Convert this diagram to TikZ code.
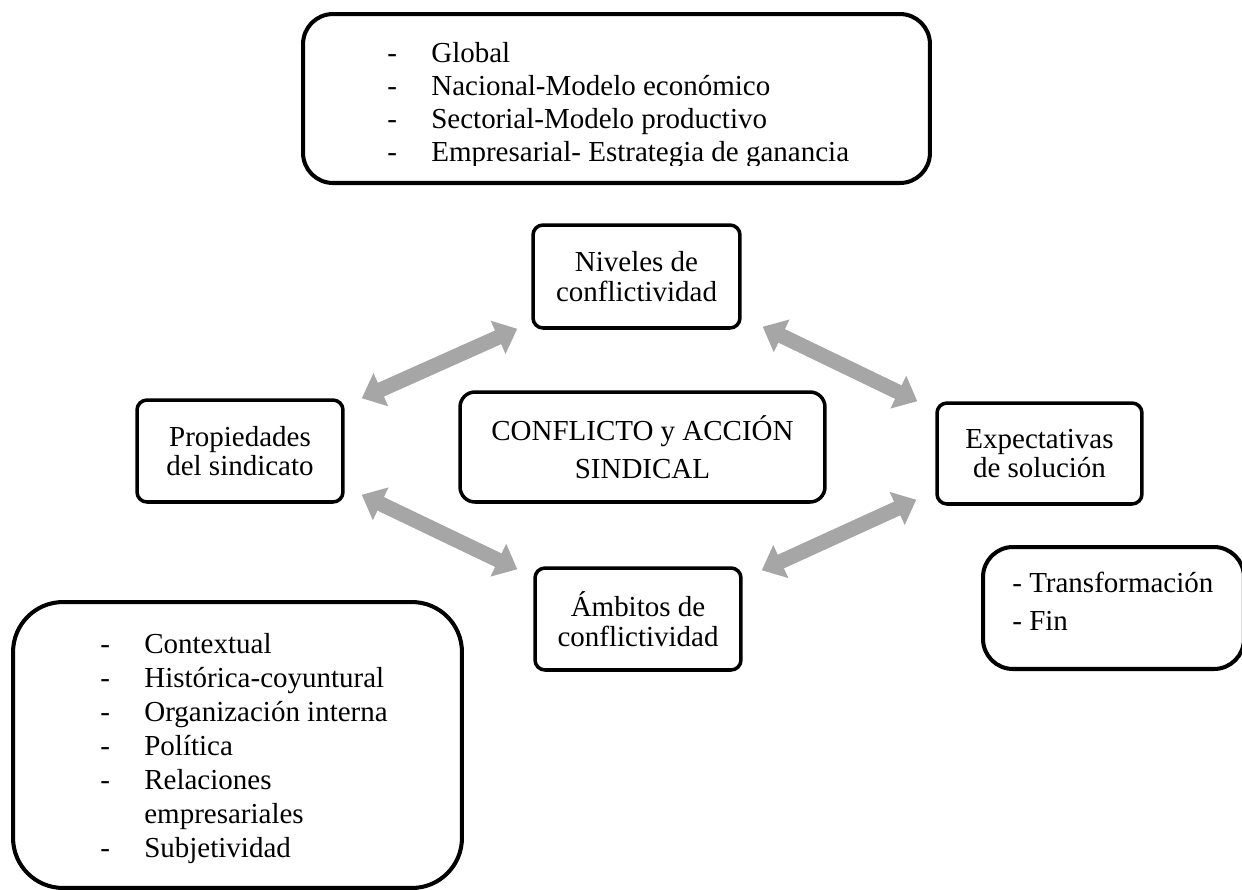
\documentclass[tikz,border=0pt]{standalone}
\usepackage{fontspec}
\setmainfont{Liberation Serif}
\usetikzlibrary{arrows.meta}
\tikzset{
	box/.style={draw=black, line width=2pt, rounded corners=0.2cm, align=center, inner sep=0pt, minimum width=4.12cm, minimum height=2.04cm, font=\fontsize{16.5}{16.8}\selectfont},
	frame/.style={draw=black, line width=2.3pt, inner sep=0pt},
	item/.style={anchor=base west, inner sep=0pt, font=\fontsize{16.5}{19}\selectfont},
	biarrow/.style={line width=0.3cm, color=black!35, {Triangle[width=0.7cm,length=0.42cm]}-{Triangle[width=0.7cm,length=0.42cm]}}
}
\newcommand{\bul}{\makebox[0.88cm][l]{-}}
\newcommand{\nobul}{\hspace*{0.88cm}}

\begin{document}
\begin{tikzpicture}[x=0.02cm, y=-0.02cm]
		%%%%% START %%%%%
		\useasboundingbox (0,0) rectangle (1242,890);
		
		% niveles (arriba)
		\node[frame, rounded corners=0.6cm, minimum width=12.54cm, minimum height=3.38cm] (nivbox) at (616.5,98.5) {};
		\begin{scope}
			\clip (303,14) rectangle (930,165);
			\foreach \t [count=\i] in {Global, Nacional-Modelo económico, Sectorial-Modelo productivo, Empresarial- Estrategia de ganancia}
				\node[item] (niv-\i) at (387,28.7+33.3*\i) {\bul \t};
		\end{scope}
		
		% esquema central
		\node[box, minimum width=4.14cm, minimum height=2.06cm] (niveles) at (636.5,276.5) {Niveles de\\conflictividad};
		\node[box, rounded corners=0.3cm, minimum width=7.3cm, minimum height=2.2cm, font=\fontsize{16.5}{21.6}\selectfont] (accion) at (642.5,447) {CONFLICTO y ACCIÓN\\SINDICAL};
		\node[box] (prop) at (240,451) {Propiedades\\del sindicato};
		\node[box, minimum width=4.1cm, minimum height=2.02cm] (expect) at (1039.5,453.5) {Expectativas\\de solución};
		\node[box] (ambitos) at (638,619) {Ámbitos de\\conflictividad};
		
		\draw[biarrow] ([shift={(17,0)}]prop.north east) -- ([shift={(-14,-1)}]niveles.south west);
		\draw[biarrow] ([shift={(21,-3)}]niveles.south east) -- ([shift={(-18,0)}]expect.north west);
		\draw[biarrow] ([shift={(17,-9)}]prop.south east) -- ([shift={(-16,3)}]ambitos.north west);
		\draw[biarrow] ([shift={(19,4)}]ambitos.north east) -- ([shift={(-19,-6)}]expect.south west);
		
		% expectativas (derecha)
		\node[frame, rounded corners=0.6cm, minimum width=5.22cm, minimum height=2.44cm] (solbox) at (1113.5,608) {};
		\node[item] (sol-1) at (1012,592) {- Transformación};
		\node[item] (sol-2) at (1012,630) {- Fin};
		
		% propiedades (abajo)
		\node[frame, rounded corners=1cm, minimum width=8.98cm, minimum height=5.72cm] (propbox) at (237.5,745) {};
		\foreach \t [count=\i] in {\bul Contextual, \bul Histórica-coyuntural, \bul Organización interna, \bul Política, \bul Relaciones, \nobul empresariales, \bul Subjetividad}
			\node[item] (pro-\i) at (100,619+34*\i) {\t};
		
		%%%%% END %%%%%
\end{tikzpicture}
\end{document}
